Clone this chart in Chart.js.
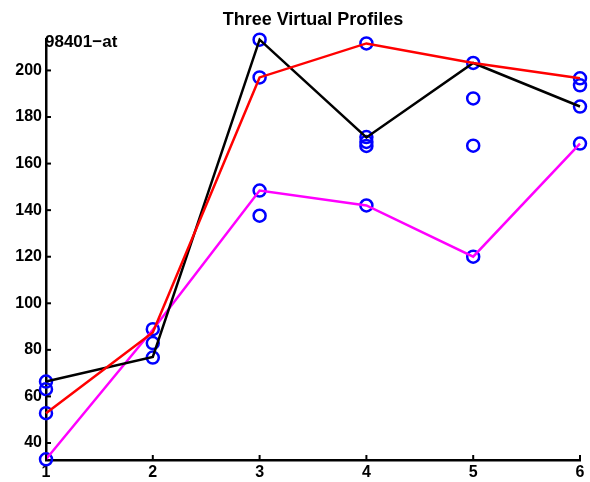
<!DOCTYPE html>
<html>
<head>
<meta charset="utf-8">
<script src="https://cdn.jsdelivr.net/npm/chart.js@4/dist/chart.umd.min.js"></script>
<style>
  html, body { margin: 0; padding: 0; background: #fff; }
  #wrap { width: 590px; height: 482px; }
</style>
</head>
<body>
<div id="wrap"><canvas id="c" width="590" height="482"></canvas></div>
<script>
// Time points (x axis)
const timePoints = [1, 2, 3, 4, 5, 6];

// Three simulated profiles
const redProfile     = [52.8, 87.5, 197.0, 211.6, 203.2, 196.6];
const blackProfile   = [66.4, 77.0, 213.2, 171.2, 203.2, 184.5];
const magentaProfile = [33.0, 88.6, 148.4, 142.0, 120.0, 168.6];

// Observed values (blue circles), per time point
const observedX = [1, 1, 1, 1,   2, 2, 2,   3, 3, 3, 3,   4, 4, 4, 4, 4,   5, 5, 5, 5,   6, 6, 6, 6];
const observedY = [66.4, 63.1, 52.8, 33.0,
                   88.9, 82.9, 76.7,
                   213.2, 197.0, 148.4, 137.6,
                   211.6, 171.4, 169.3, 167.6, 142.0,
                   203.2, 188.0, 167.7, 120.0,
                   196.6, 193.6, 184.5, 168.6];

// Axis ticks
const xTicks = [1, 2, 3, 4, 5, 6];
const yTicks = [40, 60, 80, 100, 120, 140, 160, 180, 200];

const chartTitle = 'Three Virtual Profiles';
const corner = '98401\u2212at';

const FONT = '"Liberation Sans", Arial, Helvetica, sans-serif';

const toXY = (ys) => ys.map((v, i) => ({ x: timePoints[i], y: v }));

const lineDs = (label, data, color) => ({
  type: 'line',
  label,
  data: toXY(data),
  borderColor: color,
  backgroundColor: color,
  borderWidth: 2.5,
  pointRadius: 0,
  tension: 0,
  clip: false,
  order: 1
});

const decorations = {
  id: 'decorations',
  afterDatasetsDraw(chart) {
    const { ctx, chartArea } = chart;
    const xs = chart.scales.x, ys = chart.scales.y;
    ctx.save();
    ctx.strokeStyle = '#000';
    ctx.lineWidth = 2;
    // inward tick marks
    yTicks.forEach(v => {
      const p = ys.getPixelForValue(v);
      ctx.beginPath();
      ctx.moveTo(chartArea.left, p);
      ctx.lineTo(chartArea.left + 5, p);
      ctx.stroke();
    });
    xTicks.forEach(v => {
      const p = xs.getPixelForValue(v);
      ctx.beginPath();
      ctx.moveTo(p, chartArea.bottom);
      ctx.lineTo(p, chartArea.bottom - 5);
      ctx.stroke();
    });
    // title
    ctx.fillStyle = '#000';
    ctx.font = 'bold 18px ' + FONT;
    ctx.textAlign = 'center';
    ctx.textBaseline = 'alphabetic';
    ctx.fillText(chartTitle, (chartArea.left + chartArea.right) / 2, 25);
    // corner label
    ctx.font = 'bold 17px ' + FONT;
    ctx.textAlign = 'left';
    ctx.fillText(corner, chartArea.left - 1, 47);
    ctx.restore();
  }
};

new Chart(document.getElementById('c'), {
  data: {
    datasets: [
      lineDs('red', redProfile, '#ff0000'),
      lineDs('black', blackProfile, '#000000'),
      lineDs('magenta', magentaProfile, '#ff00ff'),
      {
        type: 'scatter',
        label: 'observed',
        data: observedX.map((x, i) => ({ x, y: observedY[i] })),
        pointStyle: 'circle',
        pointRadius: 6,
        pointBorderWidth: 2.5,
        pointBorderColor: '#0000ff',
        pointBackgroundColor: 'rgba(0,0,0,0)',
        clip: false,
        order: 2
      }
    ]
  },
  options: {
    responsive: false,
    animation: false,
    events: [],
    layout: { padding: { left: 0, right: 10, top: 39, bottom: 0 } },
    plugins: {
      legend: { display: false },
      title: { display: false },
      tooltip: { enabled: false }
    },
    scales: {
      x: {
        type: 'linear',
        min: 1,
        max: 6,
        grid: { display: false, drawTicks: false },
        border: { display: true, color: '#000', width: 2.5 },
        afterBuildTicks(scale) { scale.ticks = xTicks.map(v => ({ value: v })); },
        afterFit(scale) { scale.height = 22; },
        ticks: {
          padding: 3,
          color: '#000',
          font: { family: FONT, size: 16, weight: 'bold' },
          maxRotation: 0,
          autoSkip: false
        }
      },
      y: {
        type: 'linear',
        min: 32.7,
        max: 213.5,
        grid: { display: false, drawTicks: false },
        border: { display: true, color: '#000', width: 2.5 },
        afterBuildTicks(scale) { scale.ticks = yTicks.map(v => ({ value: v })); },
        afterFit(scale) { scale.width = 46; },
        ticks: {
          padding: 4,
          color: '#000',
          font: { family: FONT, size: 16, weight: 'bold' },
          autoSkip: false
        }
      }
    }
  },
  plugins: [decorations]
});
</script>
</body>
</html>
